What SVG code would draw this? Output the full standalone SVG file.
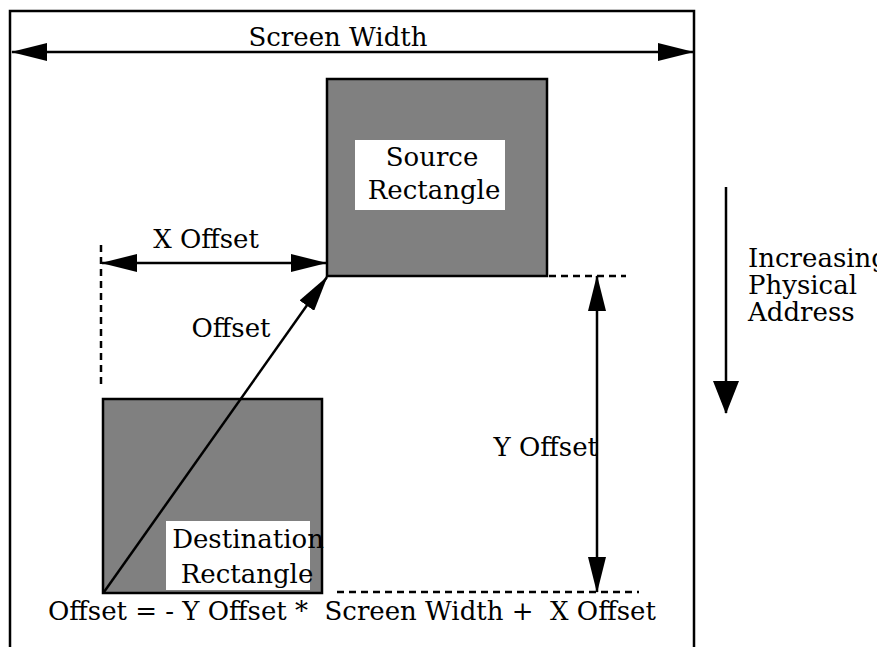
<svg xmlns="http://www.w3.org/2000/svg" width="877" height="647" viewBox="0 0 877 647">
<style>
  .t { font-family: "DejaVu Serif", "Liberation Serif", serif; font-size: 26px; fill: #000; }
  .m { text-anchor: middle; }
  .e { text-anchor: end; }
  .ln { stroke: #000; stroke-width: 2.5; fill: none; }
  .dash { stroke: #000; stroke-width: 2.5; stroke-dasharray: 7 5; fill: none; }
  .rect { fill: #808080; stroke: #000; stroke-width: 2.5; }
  .lbl { fill: #fff; stroke: none; }
</style>
<defs>
  <marker id="ah" viewBox="0 0 36 18" refX="35" refY="9" markerWidth="36" markerHeight="18" markerUnits="userSpaceOnUse" orient="auto-start-reverse">
    <path d="M0,0 L36,9 L0,18 z" fill="#000"/>
  </marker>
  <marker id="ahBig" viewBox="0 0 33 26" refX="32" refY="13" markerWidth="33" markerHeight="26" markerUnits="userSpaceOnUse" orient="auto">
    <path d="M0,0 L33,13 L0,26 z" fill="#000"/>
  </marker>
</defs>

<g id="frame">
  <path class="ln" d="M10,647 L10,11 L694,11 L694,647"/>
</g>

<g id="source">
  <rect class="rect" x="327" y="79" width="220" height="197"/>
  <rect class="lbl" x="355" y="140" width="150" height="70"/>
  <text class="t m" x="432" y="166">Source</text>
  <text class="t m" x="434" y="199">Rectangle</text>
</g>

<g id="destination">
  <rect class="rect" x="103" y="399" width="219" height="194"/>
  <rect class="lbl" x="166" y="521" width="144" height="69"/>
  <text class="t m" x="248" y="548">Destination</text>
  <text class="t m" x="247" y="583">Rectangle</text>
</g>

<g id="connectors">
  <line class="ln" x1="12" y1="52" x2="693" y2="52" marker-start="url(#ah)" marker-end="url(#ah)"/>
  <line class="ln" x1="102" y1="263" x2="326" y2="263" marker-start="url(#ah)" marker-end="url(#ah)"/>
  <line class="ln" x1="104" y1="592" x2="327" y2="277" marker-end="url(#ah)"/>
  <line class="ln" x1="597" y1="276" x2="597" y2="592" marker-start="url(#ah)" marker-end="url(#ah)"/>
  <line class="ln" x1="726" y1="187" x2="726" y2="413" marker-end="url(#ahBig)"/>
  <line class="dash" x1="101" y1="245" x2="101" y2="387"/>
  <line class="dash" x1="549" y1="276" x2="626" y2="276"/>
  <line class="dash" x1="337" y1="592" x2="639" y2="592"/>
</g>

<g id="labels">
  <text class="t m" x="338" y="46">Screen Width</text>
  <text class="t m" x="206" y="248">X Offset</text>
  <text class="t m" x="231" y="337">Offset</text>
  <text class="t e" x="598" y="456">Y Offset</text>
  <text class="t" x="748" y="267">Increasing</text>
  <text class="t" x="748" y="294">Physical</text>
  <text class="t" x="748" y="321">Address</text>
  <text class="t" x="48" y="620" xml:space="preserve">Offset = - Y Offset *  Screen Width +  X Offset</text>
</g>
</svg>
